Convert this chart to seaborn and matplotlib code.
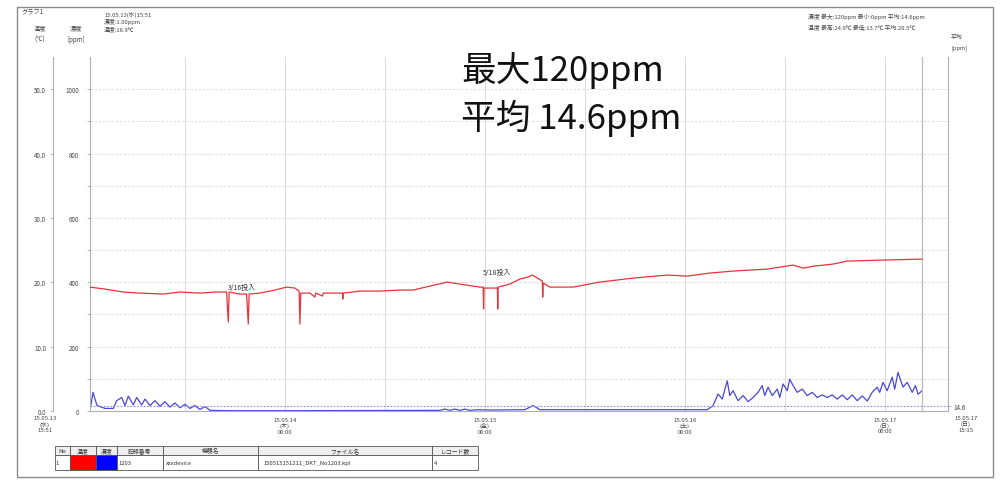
import numpy as np
import pandas as pd
import matplotlib
matplotlib.use('Agg')
import matplotlib.pyplot as plt
from matplotlib.patches import Rectangle
import seaborn as sns

# --- data (hours from start) ---

temp_hours = [0.0, 1.8, 4.0, 6.0, 8.8, 10.8, 13.2, 15.0, 16.4, 16.6, 16.7, 18.0, 18.8, 19.0, 19.1,
              20.4, 22.2, 23.6, 24.6, 25.1, 25.2, 25.3, 26.4, 27.0, 27.1, 27.9, 28.0, 30.3, 30.35,
              30.4, 32.4, 34.8, 37.2, 38.8, 40.8, 42.9, 44.4, 46.8, 47.2, 47.25, 47.3, 48.9, 48.95,
              49.0, 50.4, 51.6, 52.6, 53.1, 53.7, 54.3, 54.35, 54.4, 55.2, 58.0, 61.2, 65.2, 69.3,
              71.7, 74.4, 77.2, 81.3, 84.4, 85.6, 87.0, 89.2, 90.9, 95.2, 99.9]
temp_vals = [19.25, 18.94, 18.48, 18.32, 18.17, 18.48, 18.32, 18.48, 18.48, 13.82, 18.48, 18.17,
             18.17, 13.51, 18.17, 18.32, 18.79, 19.25, 19.10, 18.63, 13.51, 18.32, 18.32, 17.70,
             18.32, 17.86, 18.32, 18.32, 17.39, 18.32, 18.63, 18.63, 18.79, 18.79, 19.41, 20.03,
             19.72, 19.25, 19.25, 15.84, 19.10, 19.10, 15.84, 19.25, 19.72, 20.50, 20.81, 21.12,
             20.65, 20.19, 17.70, 19.88, 19.25, 19.25, 20.03, 20.65, 21.12, 20.96, 21.43, 21.74,
             22.05, 22.67, 22.20, 22.52, 22.83, 23.29, 23.45, 23.60]

conc_hours = [0.0, 0.36, 0.84, 1.8, 2.8, 3.2, 3.8, 4.2, 4.6, 5.2, 5.6, 6.2, 6.6, 7.2, 7.8, 8.4,
              9.0, 9.6, 10.2, 10.8, 11.4, 12.0, 12.6, 13.2, 13.8, 14.4, 16.8, 25.2, 42.0, 42.6,
              43.2, 43.8, 44.4, 45.0, 45.6, 46.5, 48.0, 52.2, 53.2, 54.0, 61.2, 74.1, 74.8, 75.4,
              75.9, 76.5, 76.8, 77.2, 77.8, 78.4, 79.0, 79.6, 80.2, 80.7, 81.0, 81.4, 81.9, 82.5,
              82.8, 83.2, 83.7, 84.0, 84.4, 84.9, 85.5, 86.1, 86.7, 87.3, 87.9, 88.5, 89.1, 89.7,
              90.3, 90.9, 91.5, 92.1, 92.7, 93.3, 93.9, 94.5, 94.8, 95.2, 95.7, 96.3, 96.6, 97.0,
              97.6, 98.1, 98.7, 99.1, 99.4, 99.9]
conc_vals = [1, 58, 17, 8, 8, 32, 42, 17, 46, 19, 42, 19, 37, 17, 32, 15, 29, 12, 25, 10, 21, 8,
             17, 5, 14, 2, 1, 1, 2, 6, 2, 6, 2, 6, 2, 4, 3, 4, 17, 4, 4, 4, 17, 53, 37, 94, 48, 63,
             32, 48, 29, 42, 58, 79, 48, 74, 48, 68, 42, 84, 63, 99, 79, 58, 68, 48, 58, 42, 50,
             42, 50, 37, 50, 35, 50, 32, 47, 31, 58, 74, 58, 89, 63, 105, 68, 120, 74, 89, 58, 79,
             52, 63]

conc_avg = 14.6
ppm_ticks = [0, 200, 400, 600, 800, 1000]
temp_ticks = [0.0, 10.0, 20.0, 30.0, 40.0, 50.0]
major_hours = [23.4, 47.4, 71.4, 95.4]
minor_hours = [11.4, 35.4, 59.4, 83.4]
major_labels = ['15.05.14\n(木)\n00:00', '15.05.15\n(金)\n00:00',
                '15.05.16\n(土)\n00:00', '15.05.17\n(日)\n00:00']
start_label = '15.05.13\n(水)\n15:51'
end_label = '15.05.17\n(日)\n15:15'
end_hour = 99.9

notes = [('3/16投入', 16.6, 18.6), ('5/18投入', 47.1, 20.9)]

table_cols = ['No', '温度', '濃度', '記録番号', '機器名', 'ファイル名', 'レコード数']
table_row = ['1', '', '', '1203', 'xxxdevice', '150515151211_DKT_No1203.kpl', '4']

temp_df = pd.DataFrame({'h': temp_hours, 'temp': temp_vals})
conc_df = pd.DataFrame({'h': conc_hours, 'conc': conc_vals})

# --- style ---
sns.set_theme(style='white')
plt.rcParams['font.family'] = ['Noto Sans CJK JP', 'DejaVu Sans']
red = '#e8323c'
blue = '#4a46d8'
grid_c = '#d9d9d9'
txt_c = '#444444'

W, H = 1004, 481
fig = plt.figure(figsize=(W / 100, H / 100), dpi=100)

def fx(px):
    return px / W

def fy(py):
    return 1 - py / H

ax = fig.add_axes([fx(90), fy(412), fx(948) - fx(90), fy(58) - fy(412)])
ax.set_facecolor('white')
ax.set_xlim(0, 103)
ax.set_ylim(0, 1100)

sns.lineplot(data=conc_df, x='h', y='conc', ax=ax, color=blue, lw=0.9,
             estimator=None, sort=False)
ax.axhline(conc_avg, color='#8c8cf0', lw=0.8, ls=(0, (1.5, 1.5)))

ax.set_yticks(ppm_ticks)
ax.set_yticks(range(100, 1100, 200), minor=True)
ax.set_yticklabels([str(t) for t in ppm_ticks], fontsize=4.5, color=txt_c)
ax.set_xticks(major_hours)
ax.set_xticklabels(major_labels, fontsize=4.3, color=txt_c, linespacing=1.1)
ax.set_xticks(minor_hours, minor=True)
ax.tick_params(axis='both', which='both', length=2, width=0.5, color='#999999', pad=2)
ax.tick_params(axis='y', pad=6)
ax.grid(axis='y', which='both', color=grid_c, lw=0.6, ls=(0, (3, 2)))
ax.grid(axis='x', which='both', color=grid_c, lw=0.7)
ax.axvline(end_hour, color='#bdbdbd', lw=0.9)
ax.set_xlabel('')
ax.set_ylabel('')
for s in ['left', 'right', 'bottom']:
    ax.spines[s].set_color('#b0b0b0')
    ax.spines[s].set_linewidth(0.8)
ax.spines['top'].set_visible(False)

# temperature axis, offset to the left
ax2 = ax.twinx()
ax2.set_ylim(0, 55)
sns.lineplot(data=temp_df, x='h', y='temp', ax=ax2, color=red, lw=0.9,
             estimator=None, sort=False)
ax2.yaxis.set_ticks_position('left')
ax2.spines['left'].set_position(('outward', 26.6))
ax2.spines['left'].set_color('#b0b0b0')
ax2.spines['left'].set_linewidth(0.8)
for s in ['right', 'top', 'bottom']:
    ax2.spines[s].set_visible(False)
ax2.set_yticks(temp_ticks)
ax2.set_yticklabels([f'{t:.1f}' for t in temp_ticks], fontsize=4.5, color=txt_c)
ax2.tick_params(axis='y', length=2, width=0.5, color='#999999', pad=3)
ax2.set_ylabel('')
ax2.set_xlabel('')
ax2.set_xlim(0, 103)

for label, h, t in notes:
    ax2.text(h, t, label, fontsize=5, color='#333333', va='bottom', ha='left')

# right average axis
ax3 = ax.twinx()
ax3.set_ylim(0, 1100)
ax3.set_yticks([conc_avg])
ax3.set_yticklabels([f'{conc_avg}'], fontsize=4.5, color=txt_c)
ax3.tick_params(axis='y', length=2, width=0.5, color='#999999', pad=2)
for s in ['left', 'top', 'bottom', 'right']:
    ax3.spines[s].set_visible(False)

# start / end time labels
fig.text(fx(45), fy(416), start_label, fontsize=4.3, color=txt_c, ha='center', va='top',
         linespacing=1.1)
fig.text(fx(966), fy(416), end_label, fontsize=4.3, color=txt_c, ha='center', va='top',
         linespacing=1.1)

# header texts
fig.text(fx(22), fy(8), 'グラフ1', fontsize=4.5, color=txt_c, va='top')
fig.text(fx(40), fy(24), '温度', fontsize=4.5, color=txt_c, va='top', ha='center')
fig.text(fx(40), fy(36), '(℃)', fontsize=4.5, color=txt_c, va='top', ha='center')
fig.text(fx(76), fy(24), '濃度', fontsize=4.5, color=txt_c, va='top', ha='center')
fig.text(fx(76), fy(36), '[ppm]', fontsize=4.5, color=txt_c, va='top', ha='center')
fig.text(fx(104), fy(12), '15.05.13(水)15:51', fontsize=4.2, color=txt_c, va='top')
fig.text(fx(104), fy(19), '濃度:1.00ppm', fontsize=4.2, color=txt_c, va='top')
fig.text(fx(104), fy(26), '温度:18.9℃', fontsize=4.2, color=txt_c, va='top')
fig.text(fx(808), fy(14), '濃度 最大:120ppm 最小:0ppm 平均:14.6ppm', fontsize=4.2,
         color=txt_c, va='top')
fig.text(fx(808), fy(24), '温度 最高:24.9℃ 最低:13.7℃ 平均:20.5℃', fontsize=4.2,
         color=txt_c, va='top')
fig.text(fx(951), fy(35), '平均', fontsize=4.2, color=txt_c, va='top')
fig.text(fx(951), fy(45), '[ppm]', fontsize=4.2, color=txt_c, va='top')

# big annotation
fig.text(fx(461), fy(52), '最大120ppm', fontsize=25, color='#111111', va='top')
fig.text(fx(461), fy(100), '平均 14.6ppm', fontsize=25, color='#111111', va='top')

# legend table
tax = fig.add_axes([fx(55), fy(471), fx(478) - fx(55), fy(447) - fy(471)])
tax.axis('off')
widths = np.array([15, 26, 21, 46, 95, 174, 46], dtype=float)
tbl = tax.table(cellText=[table_row], colLabels=table_cols,
                colWidths=list(widths / widths.sum()), bbox=[0, 0, 1, 1],
                cellLoc='left')
tbl.auto_set_font_size(False)
for (r, c), cell in tbl.get_celld().items():
    cell.set_edgecolor('#555555')
    cell.set_linewidth(0.6)
    cell.get_text().set_fontsize(4.2)
    cell.get_text().set_color('#333333')
    cell.PAD = 0.03
    if r == 0:
        cell.set_height(0.38)
        cell.set_facecolor('#eeeeee')
    else:
        cell.set_height(0.62)
tbl[(1, 1)].set_facecolor('#ff0000')
tbl[(1, 2)].set_facecolor('#0000ff')

# outer frame
fig.patches.append(Rectangle((fx(17), fy(478)), fx(993) - fx(17), fy(8) - fy(478),
                             transform=fig.transFigure, fill=False,
                             edgecolor='#8a8a8a', lw=1.0))

fig.savefig('out.png', dpi=100, facecolor='white')
